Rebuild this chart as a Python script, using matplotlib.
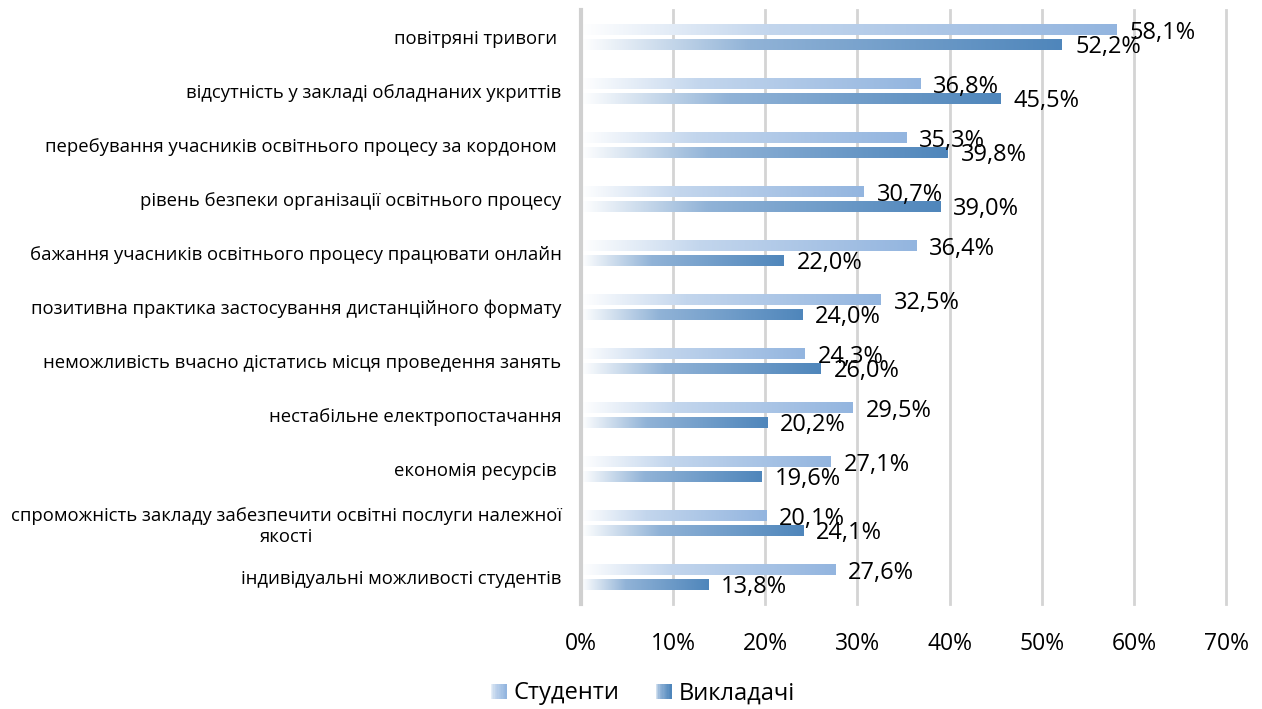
import numpy as np
import matplotlib
matplotlib.use('Agg')
import matplotlib.pyplot as plt
from matplotlib.colors import LinearSegmentedColormap
from matplotlib.legend_handler import HandlerBase
from matplotlib.patches import Rectangle

plt.rcParams['font.family'] = ['Open Sans', 'DejaVu Sans']

# data
categories = [
    'повітряні тривоги ',
    'відсутність у закладі обладнаних укриттів',
    'перебування учасників освітнього процесу за кордоном ',
    'рівень безпеки організації освітнього процесу',
    'бажання учасників освітнього процесу працювати онлайн',
    'позитивна практика застосування дистанційного формату',
    'неможливість вчасно дістатись місця проведення занять',
    'нестабільне електропостачання',
    'економія ресурсів ',
    'спроможність закладу забезпечити освітні послуги належної\nякості',
    'індивідуальні можливості студентів',
]
students = [58.1, 36.8, 35.3, 30.7, 36.4, 32.5, 24.3, 29.5, 27.1, 20.1, 27.6]
teachers = [52.2, 45.5, 39.8, 39.0, 22.0, 24.0, 26.0, 20.2, 19.6, 24.1, 13.8]
series_names = ['Студенти', 'Викладачі']

# gradient fills (white -> colour, like the Excel gradient)
cmap_s = LinearSegmentedColormap.from_list(
    's', [(0, '#ffffff'), (0.35, '#c3d6ed'), (1, '#93b5df')])
cmap_t = LinearSegmentedColormap.from_list(
    't', [(0, '#ffffff'), (0.35, '#91b3d7'), (1, '#4f86bb')])
grad = np.linspace(0, 1, 256).reshape(1, -1)


class GradHandler(HandlerBase):
    def __init__(self, cmap):
        super().__init__()
        self.cmap = cmap

    def create_artists(self, legend, orig_handle, xdescent, ydescent,
                       width, height, fontsize, trans):
        n = 12
        side = height * 0.95
        x0 = width - side
        out = []
        for k in range(n):
            r = Rectangle((x0 + side * k / n - xdescent, -ydescent),
                          side / n + 0.3, side,
                          facecolor=self.cmap(0.15 + 0.85 * k / (n - 1)),
                          edgecolor='none', transform=trans)
            out.append(r)
        return out


fig = plt.figure(figsize=(12.62, 7.09), dpi=100)
ax = fig.add_axes([0.4604, 0.1481, 0.9715 - 0.4604, 0.9859 - 0.1481])

y = np.arange(len(categories))
h = 0.195
off = 0.135
bars_s = ax.barh(y - off, students, height=h, color='none')
bars_t = ax.barh(y + off, teachers, height=h, color='none')

for bars, cmap in ((bars_s, cmap_s), (bars_t, cmap_t)):
    for p in bars:
        x0, y0 = p.get_x(), p.get_y()
        ax.imshow(grad, cmap=cmap, aspect='auto', interpolation='bilinear',
                  extent=(x0, x0 + p.get_width(), y0 + p.get_height(), y0),
                  zorder=2)

for bars, vals in ((bars_s, students), (bars_t, teachers)):
    for p, v in zip(bars, vals):
        ax.annotate(f'{v:.1f}%'.replace('.', ','),
                    (p.get_width(), p.get_y() + p.get_height() / 2),
                    xytext=(13, -3), textcoords='offset pixels',
                    ha='left', va='center', fontsize=17, color='#000000',
                    zorder=5)

ax.set_xlim(0, 70)
ax.set_ylim(len(categories) - 0.5, -0.5)
ax.set_xticks(np.arange(0, 71, 10))
ax.set_xticklabels([f'{t}%' for t in range(0, 71, 10)])
ax.set_yticks(y)
ax.set_yticklabels(categories, fontsize=13.3, ha='right',
                   multialignment='center', linespacing=1.2)
ax.tick_params(axis='x', length=0, labelsize=16.5, pad=20)
ax.tick_params(axis='y', length=0, pad=14)

ax.grid(axis='x', color='#d4d4d4', linewidth=2, zorder=0)
for gl in ax.get_xgridlines():
    gl.set_clip_on(False)
ax.set_axisbelow(True)
for s in ['top', 'right', 'bottom']:
    ax.spines[s].set_visible(False)
ax.spines['left'].set_color('#d0d0d0')
ax.spines['left'].set_linewidth(3)
ax.spines['left'].set_zorder(3)

hs = Rectangle((0, 0), 1, 1)
ht = Rectangle((0, 0), 1, 1)
fig.legend([hs, ht], series_names, loc='center',
           bbox_to_anchor=(0.509, 0.022), ncol=2, frameon=False,
           fontsize=17, handlelength=0.7, handletextpad=0.3,
           columnspacing=1.5,
           handler_map={hs: GradHandler(cmap_s), ht: GradHandler(cmap_t)})

fig.savefig('out.png', dpi=100)
